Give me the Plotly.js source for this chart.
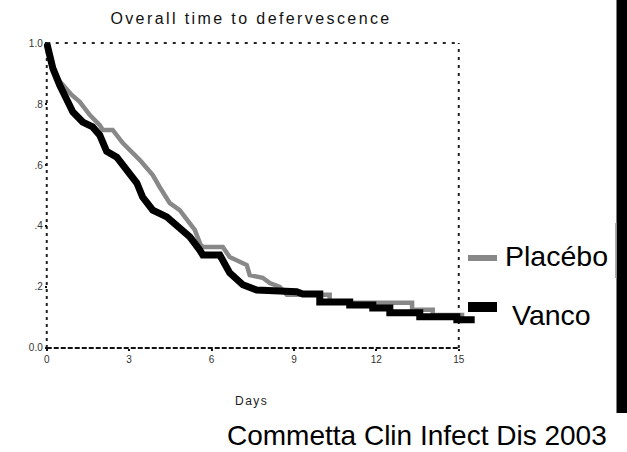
<!DOCTYPE html>
<html>
<head>
<meta charset="utf-8">
<script src="https://cdn.plot.ly/plotly-3.0.1.min.js"></script>
<style>html,body{margin:0;padding:0;background:#fff;overflow:hidden;}#chart{width:627px;height:452px;}</style>
</head>
<body>
<div id="chart"></div>
<script>
// Kaplan-Meier style curves (days, proportion still febrile)
const vancoDays = [0, 0.22, 0.47, 0.73, 0.95, 1.31, 1.67, 1.93, 2.18, 2.55, 2.91, 3.28, 3.49, 3.86, 4.37, 4.73, 5.21, 5.57, 5.68, 6.30, 6.66, 7.14, 7.64, 9.10, 9.32, 9.94, 9.94, 11.03, 11.03, 11.87, 11.87, 12.49, 12.49, 13.58, 13.58, 14.93, 14.93, 15.58];
const vancoSurv = [1.0, 0.918, 0.862, 0.807, 0.774, 0.741, 0.725, 0.698, 0.645, 0.626, 0.584, 0.541, 0.495, 0.452, 0.43, 0.403, 0.364, 0.321, 0.305, 0.305, 0.246, 0.207, 0.19, 0.184, 0.177, 0.177, 0.151, 0.151, 0.141, 0.141, 0.131, 0.131, 0.115, 0.115, 0.102, 0.102, 0.092, 0.092];

const placeboDays = [0, 0.22, 0.47, 0.76, 0.91, 1.2, 1.57, 1.93, 2.04, 2.4, 2.77, 3.39, 3.86, 4.11, 4.48, 4.84, 5.21, 5.39, 5.6, 5.7, 6.41, 6.66, 7.28, 7.39, 7.86, 8.12, 8.48, 8.74, 10.3, 10.3, 13.3, 13.3, 14.05, 14.05, 15.2];
const placeboSurv = [1.0, 0.92, 0.875, 0.846, 0.83, 0.807, 0.764, 0.731, 0.715, 0.715, 0.672, 0.616, 0.567, 0.528, 0.475, 0.452, 0.41, 0.387, 0.338, 0.331, 0.331, 0.298, 0.272, 0.239, 0.23, 0.213, 0.2, 0.174, 0.174, 0.148, 0.148, 0.125, 0.125, 0.108, 0.108];

const xTickVals = [0, 3, 6, 9, 12, 15];
const xTickText = ['0', '3', '6', '9', '12', '15'];
const yTickVals = [0, 0.2, 0.4, 0.6, 0.8, 1.0];
const yTickText = ['0.0', '.2', '.4', '.6', '.8', '1.0'];

const seriesNames = ['Placébo', 'Vanco'];
const chartTitle = 'Overall time to defervescence';
const xTitle = 'Days';
const sourceNote = 'Commetta Clin Infect Dis 2003';

// layout geometry (pixels)
const W = 627, H = 452;
const mL = 44, mR = 149, mT = 37, mB = 98;
const pw = W - mL - mR, ph = H - mT - mB;
const px = v => (v - mL) / pw;          // pixel x -> paper
const py = v => (H - mB - v) / ph;      // pixel y -> paper

const traces = [
  {x: placeboDays, y: placeboSurv, name: seriesNames[0], mode: 'lines',
   line: {color: '#888888', width: 4.5}, showlegend: false, hoverinfo: 'skip'},
  {x: vancoDays, y: vancoSurv, name: seriesNames[1], mode: 'lines',
   line: {color: '#000000', width: 7}, showlegend: false, hoverinfo: 'skip'}
];

const frame = [
  // top dotted border
  {type: 'line', xref: 'x', yref: 'y', x0: 0, x1: 15, y0: 1, y1: 1, layer: 'below',
   line: {color: '#222', width: 2, dash: '3px,6px'}},
  // right dotted border
  {type: 'line', xref: 'x', yref: 'y', x0: 15, x1: 15, y0: 0, y1: 1, layer: 'below',
   line: {color: '#222', width: 2, dash: '3px,5px'}},
  // left dotted border
  {type: 'line', xref: 'x', yref: 'y', x0: 0, x1: 0, y0: 0, y1: 1, layer: 'below',
   line: {color: '#222', width: 2, dash: '3px,4px'}},
  // bottom dashed axis
  {type: 'line', xref: 'x', yref: 'y', x0: 0, x1: 15, y0: 0, y1: 0, layer: 'below',
   line: {color: '#111', width: 2, dash: '5px,2px'}},
  // legend samples
  {type: 'line', xref: 'paper', yref: 'paper', x0: px(468), x1: px(497), y0: py(258), y1: py(258),
   line: {color: '#888888', width: 6}},
  {type: 'line', xref: 'paper', yref: 'paper', x0: px(468), x1: px(497), y0: py(307), y1: py(307),
   line: {color: '#000000', width: 10}},
  // black bar on the right edge
  {type: 'rect', xref: 'paper', yref: 'paper', x0: px(616.5), x1: px(660), y0: py(413), y1: py(-5),
   fillcolor: '#000000', line: {width: 0}},
  {type: 'rect', xref: 'paper', yref: 'paper', x0: px(615), x1: px(616.5), y0: py(278), y1: py(223),
   fillcolor: '#aaaaaa', line: {width: 0}}
];

const annotations = [
  {text: seriesNames[0], xref: 'paper', yref: 'paper', x: px(503), y: py(256), xanchor: 'left', yanchor: 'middle',
   showarrow: false, font: {family: 'Liberation Sans, Arial, sans-serif', size: 28.5, color: '#000'}},
  {text: seriesNames[1], xref: 'paper', yref: 'paper', x: px(510), y: py(315), xanchor: 'left', yanchor: 'middle',
   showarrow: false, font: {family: 'Liberation Sans, Arial, sans-serif', size: 28.5, color: '#000'}},
  {text: xTitle, xref: 'paper', yref: 'paper', x: px(251), y: py(401), xanchor: 'center', yanchor: 'middle',
   showarrow: false, font: {family: 'Liberation Sans, Arial, sans-serif', size: 12, color: '#222'}},
  {text: sourceNote, xref: 'paper', yref: 'paper', x: px(609), y: py(435), xanchor: 'right', yanchor: 'middle',
   showarrow: false, font: {family: 'Liberation Sans, Arial, sans-serif', size: 28, color: '#000'}}
];

const layout = {
  width: W, height: H,
  margin: {l: mL, r: mR, t: mT, b: mB, pad: 0},
  paper_bgcolor: '#fff', plot_bgcolor: '#fff',
  font: {family: 'Liberation Sans, Arial, sans-serif', color: '#222'},
  title: {text: chartTitle, xref: 'paper', x: px(251), xanchor: 'center',
          yref: 'container', y: 1 - 18 / H, yanchor: 'middle',
          font: {family: 'Liberation Sans, Arial, sans-serif', size: 16, color: '#111'}},
  xaxis: {range: [-0.1, 15.7], tickvals: xTickVals, ticktext: xTickText,
          showgrid: false, zeroline: false, showline: false,
          ticks: 'outside', ticklen: 2, tickwidth: 2, tickcolor: '#111',
          anchor: 'free', position: 0.02 / 1.04,
          tickfont: {size: 10, color: '#333'}, fixedrange: true},
  yaxis: {range: [-0.02, 1.02], tickvals: yTickVals, ticktext: yTickText,
          showgrid: false, zeroline: false, showline: false,
          ticks: 'outside', ticklen: 2, tickwidth: 2, tickcolor: '#111',
          anchor: 'free', position: 0.1 / 15.8,
          tickfont: {size: 10, color: '#333'}, fixedrange: true},
  shapes: frame,
  annotations: annotations,
  showlegend: false
};

Plotly.newPlot('chart', traces, layout, {displayModeBar: false, staticPlot: true}).then(function () {
  const t = document.querySelector('.gtitle');
  if (t) t.style.letterSpacing = '2.4px';
  document.querySelectorAll('.annotation-text').forEach(function (el) {
    if (el.textContent === xTitle) el.style.letterSpacing = '1.5px';
  });
});
</script>
</body>
</html>
